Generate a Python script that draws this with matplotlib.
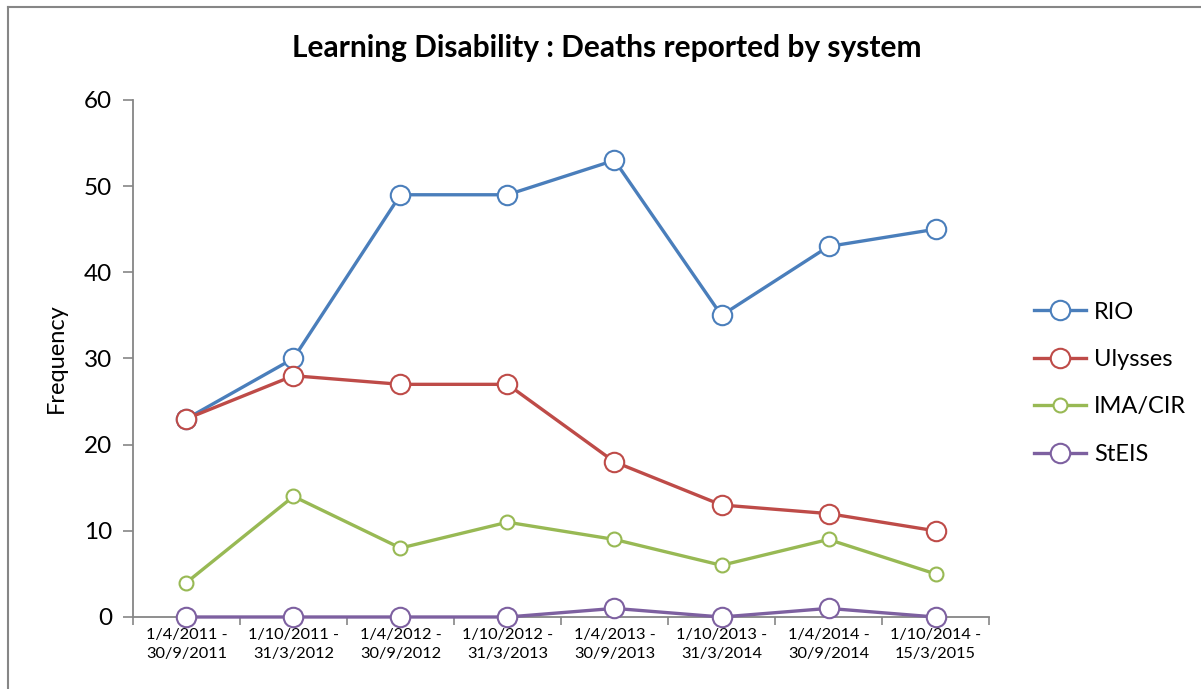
import matplotlib
matplotlib.use("Agg")
import matplotlib.pyplot as plt
from matplotlib.lines import Line2D

plt.rcParams['font.family'] = ['Lato', 'DejaVu Sans']

# data
periods = ["1/4/2011 -\n30/9/2011", "1/10/2011 -\n31/3/2012", "1/4/2012 -\n30/9/2012",
           "1/10/2012 -\n31/3/2013", "1/4/2013 -\n30/9/2013", "1/10/2013 -\n31/3/2014",
           "1/4/2014 -\n30/9/2014", "1/10/2014 -\n15/3/2015"]
rio = [23, 30, 49, 49, 53, 35, 43, 45]
ulysses = [23, 28, 27, 27, 18, 13, 12, 10]
ima_cir = [4, 14, 8, 11, 9, 6, 9, 5]
steis = [0, 0, 0, 0, 1, 0, 1, 0]

series = [("RIO", rio, "#4A7EBB", 14),
          ("Ulysses", ulysses, "#BE4B48", 14),
          ("IMA/CIR", ima_cir, "#98B954", 10),
          ("StEIS", steis, "#7D60A0", 14)]

fig = plt.figure(figsize=(12.01, 6.89), dpi=100)
ax = fig.add_axes([0.1107, 0.1045, 0.7128, 0.7504])

x = list(range(len(periods)))
for name, vals, col, ms in series:
    ax.plot(x, vals, color=col, lw=2.4, marker='o', ms=ms, mfc='white',
            mec=col, mew=1.5, label=name, clip_on=False, zorder=3)

ax.set_xlim(-0.5, len(periods) - 0.5)
ax.set_ylim(0, 60)
ax.set_yticks(range(0, 61, 10))
ax.set_xticks(x)
ax.set_xticklabels(periods, fontsize=11.8, linespacing=1.45)
ax.set_xticks([i - 0.5 for i in range(len(periods) + 1)], minor=True)
ax.tick_params(axis='x', which='major', length=0, pad=8)
ax.tick_params(axis='x', which='minor', length=6, width=1.2, color='#868686')
ax.tick_params(axis='y', length=7, width=1.2, color='#868686', labelsize=17.5, pad=8)

for s in ['top', 'right']:
    ax.spines[s].set_visible(False)
for s in ['left', 'bottom']:
    ax.spines[s].set_color('#868686')
    ax.spines[s].set_linewidth(1.3)

ax.set_ylabel("Frequency", fontsize=17, labelpad=12)
fig.text(0.505, 0.93, "Learning Disability : Deaths reported by system",
         ha='center', va='center', fontsize=21.5, fontweight='bold')

ax.legend(loc='upper left', bbox_to_anchor=(0.853, 0.576), bbox_transform=fig.transFigure,
          frameon=False, fontsize=17, handlelength=2.2, labelspacing=1.12,
          handletextpad=0.35, borderaxespad=0)

# chart frame
fig.add_artist(Line2D([0.007, 0.007], [0, 0.99], transform=fig.transFigure,
                      color='#868686', lw=1.5))
fig.add_artist(Line2D([0.007, 1.0], [0.99, 0.99], transform=fig.transFigure,
                      color='#868686', lw=1.5))

fig.savefig("out.png", dpi=100)
